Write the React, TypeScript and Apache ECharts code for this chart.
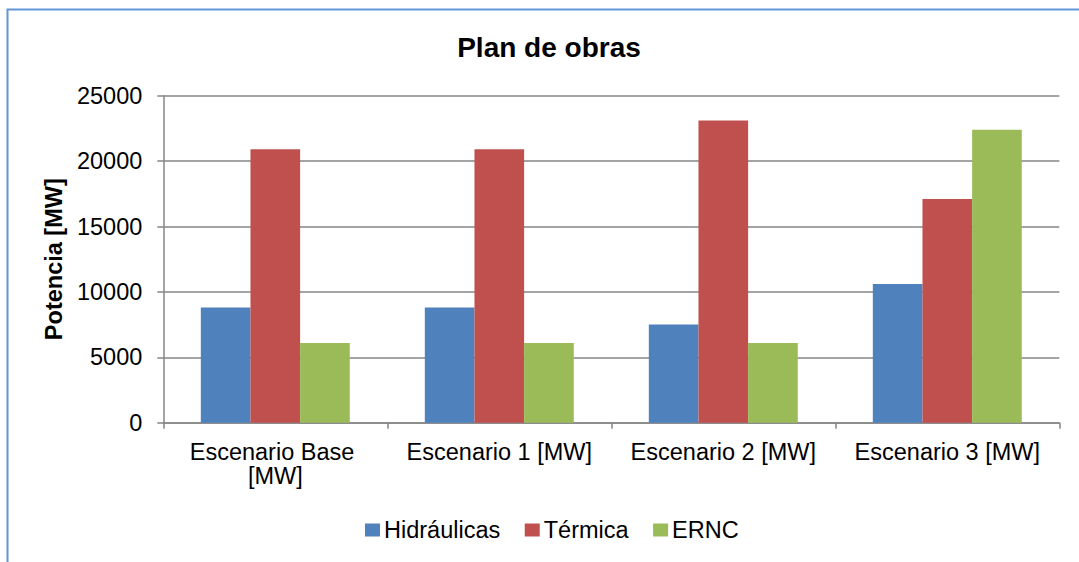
import React, { useEffect, useRef } from "react";
import * as echarts from "echarts";

const categories = ["Escenario Base [MW]", "Escenario 1 [MW]", "Escenario 2 [MW]", "Escenario 3 [MW]"];
const hidraulicas = [8800, 8800, 7500, 10600];
const termica = [20900, 20900, 23100, 17100];
const ernc = [6100, 6100, 6100, 22400];
const seriesNames = ["Hidráulicas", "Térmica", "ERNC"];
const seriesColors = ["#4F81BD", "#C0504D", "#9BBB59"];

const FONT = "Liberation Sans, Arial, sans-serif";

export default function App() {
  const ref = useRef<HTMLDivElement>(null);
  useEffect(() => {
    document.body.style.margin = "0";
    const chart = echarts.init(ref.current!, undefined, { renderer: "svg" });
    const values = [hidraulicas, termica, ernc];
    chart.setOption({
      animation: false,
      backgroundColor: "#ffffff",
      title: {
        text: "Plan de obras",
        left: 549,
        textAlign: "center",
        top: 33,
        padding: 0,
        textStyle: { fontFamily: FONT, fontSize: 28, fontWeight: "bold", color: "#000" },
      },
      legend: {
        data: seriesNames,
        left: 365,
        top: 518,
        padding: 0,
        itemWidth: 15,
        itemHeight: 13,
        itemGap: 24.5,
        icon: "rect",
        textStyle: { fontFamily: FONT, fontSize: 23.5, color: "#000", padding: [0, 0, 0, -1] },
      },
      grid: { left: 163.3, right: 19.7, top: 95.7, bottom: 139.3, containLabel: false },
      xAxis: {
        type: "category",
        data: categories,
        axisLine: { lineStyle: { color: "#868686", width: 1.5 } },
        axisTick: { show: true, length: 6, lineStyle: { color: "#868686", width: 1.5 } },
        axisLabel: {
          fontFamily: FONT,
          fontSize: 23.5,
          color: "#000",
          margin: 17,
          width: 215,
          overflow: "break",
          lineHeight: 24,
          interval: 0,
        },
      },
      yAxis: {
        type: "value",
        min: 0,
        max: 25000,
        interval: 5000,
        name: "Potencia [MW]",
        nameLocation: "middle",
        nameGap: 87,
        nameTextStyle: { fontFamily: FONT, fontSize: 23.5, fontWeight: "bold", color: "#000" },
        axisLine: { show: true, lineStyle: { color: "#868686", width: 1.5 } },
        axisTick: { show: true, length: 6, lineStyle: { color: "#868686", width: 1.5 } },
        axisLabel: {
          fontFamily: FONT,
          fontSize: 23.5,
          color: "#000",
          margin: 21,
          formatter: (v: number) => String(v),
        },
        splitLine: { lineStyle: { color: "#868686", width: 1.5 } },
      },
      series: seriesNames.map((name, i) => ({
        type: "bar",
        name,
        data: values[i],
        barGap: "0%",
        barCategoryGap: "33.5%",
        itemStyle: { color: seriesColors[i] },
      })),
      graphic: [
        {
          type: "rect",
          shape: { x: 7.5, y: 9.5, width: 1200, height: 700 },
          style: { fill: "none", stroke: "#6495D8", lineWidth: 2 },
          silent: true,
        },
      ],
    });
    return () => chart.dispose();
  }, []);
  return <div ref={ref} style={{ width: 1079, height: 562 }} />;
}
